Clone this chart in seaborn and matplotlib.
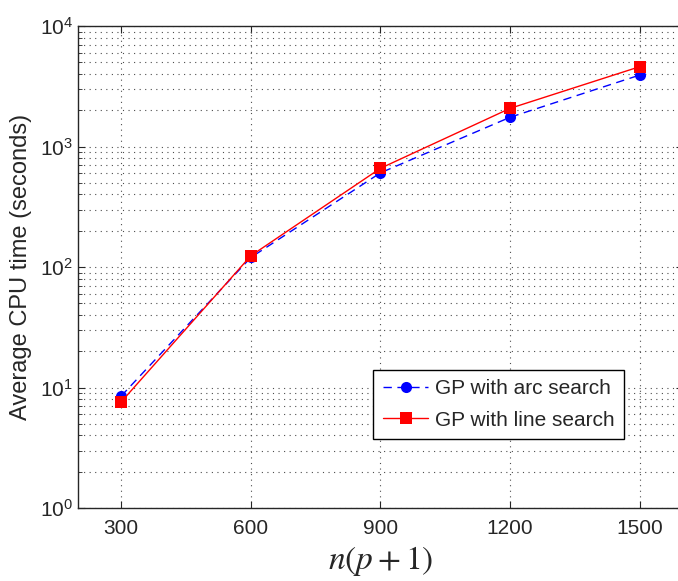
import numpy as np
import pandas as pd
import matplotlib
matplotlib.use("Agg")
from matplotlib import pyplot as plt
import seaborn as sns

# problem sizes n(p+1)
sizes = [300, 600, 900, 1200, 1500]
# average CPU time (seconds)
arc_time = [8.5, 120, 605, 1750, 3920]
line_time = [7.6, 124, 660, 2075, 4600]

df = pd.DataFrame({
    "size": sizes * 2,
    "time": arc_time + line_time,
    "method": ["GP with arc search"] * 5 + ["GP with line search"] * 5,
})

sns.set_style("ticks")
plt.rcParams["font.family"] = ["Liberation Sans", "DejaVu Sans"]
plt.rcParams["mathtext.fontset"] = "stix"

fig = plt.figure(figsize=(6.78, 5.81), dpi=100)
ax = fig.add_axes([0.115, 0.1256, 0.8924, 0.8296])

sns.lineplot(data=df, x="size", y="time", hue="method", style="method",
             palette={"GP with arc search": "blue", "GP with line search": "red"},
             dashes={"GP with arc search": (6, 4), "GP with line search": ""},
             markers={"GP with arc search": "o", "GP with line search": "s"},
             markersize=8, markeredgewidth=0, linewidth=1, ax=ax)

ax.set_yscale("log")
ax.set_xlim(200, 1600)
ax.set_ylim(1, 1e4)
ax.set_xticks(sizes)
ax.tick_params(direction="in", which="both", labelsize=15, top=True, right=True, length=5)
ax.tick_params(which="minor", length=3)
ax.tick_params(axis="x", pad=8)
ax.grid(True, which="major", linestyle=(0, (1, 4)), color="0.3", linewidth=0.8)
ax.grid(True, which="minor", axis="y", linestyle=(0, (1, 4)), color="0.3", linewidth=0.8)
for s in ax.spines.values():
    s.set_linewidth(1.0)

ax.set_xlabel(r"$n(p+1)$", fontsize=24, labelpad=4)
ax.set_ylabel("Average CPU time (seconds)", fontsize=17, labelpad=6)

leg = ax.legend(loc="lower left", bbox_to_anchor=(0.488, 0.143), fontsize=15,
                fancybox=False, framealpha=1, edgecolor="black", handlelength=2.2,
                handletextpad=0.3, borderpad=0.45, labelspacing=0.6, borderaxespad=0)
leg.get_frame().set_linewidth(1.0)

fig.savefig("out.png", dpi=100)
